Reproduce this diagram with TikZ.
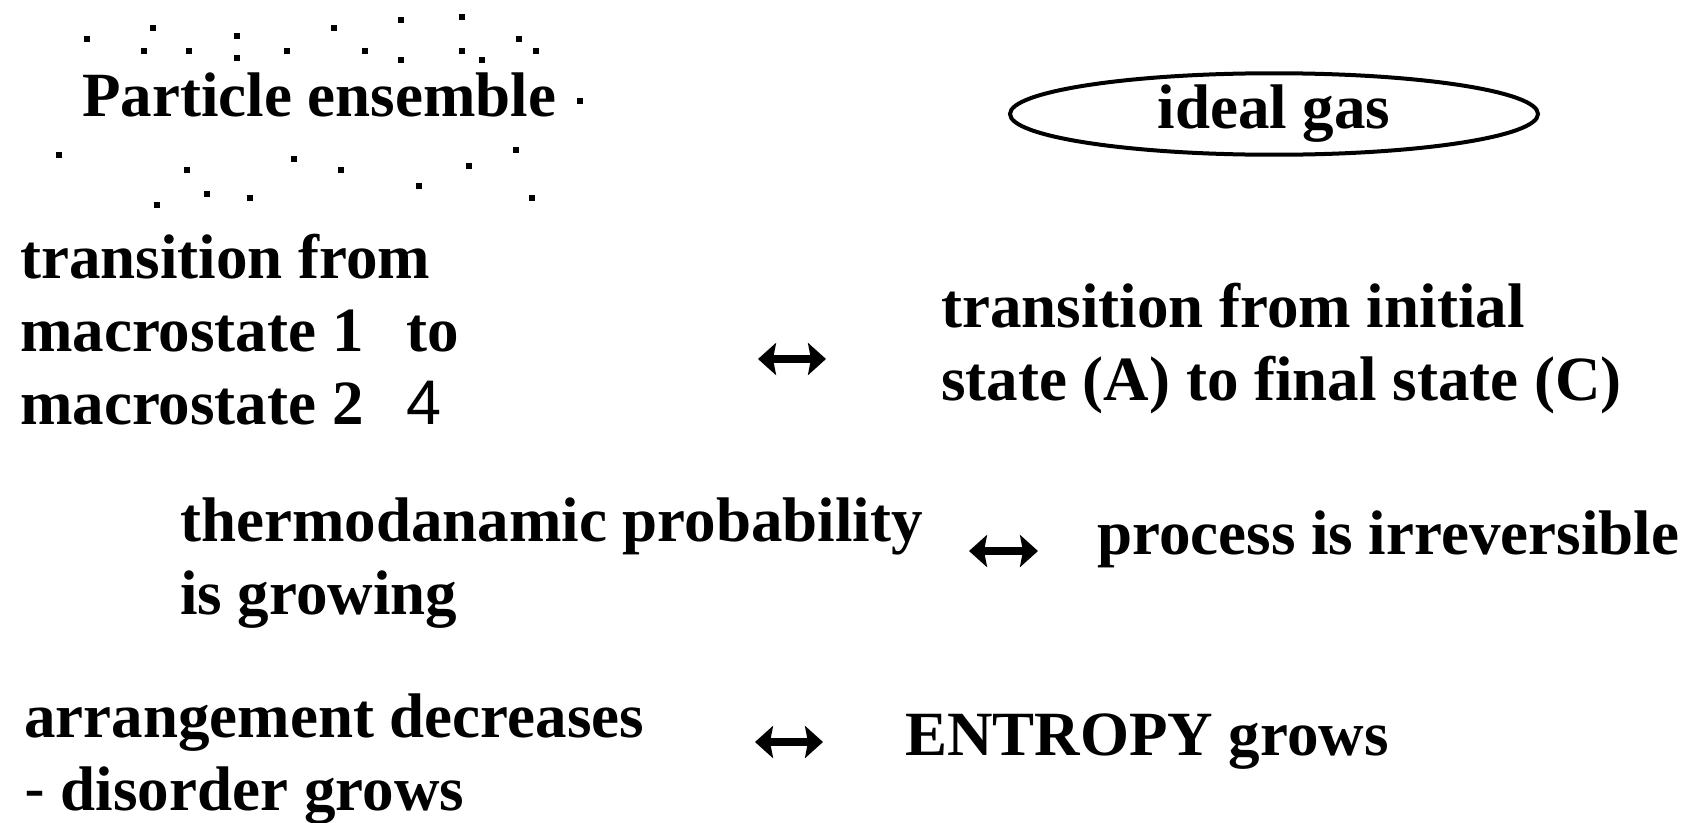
\documentclass[tikz,border=0pt]{standalone}
\usepackage{fontspec}
\setmainfont{Liberation Serif}
\newfontfamily\plainsans{Liberation Sans}
\usetikzlibrary{arrows.meta,positioning,calc,shapes.geometric}
\definecolor{inkblack}{HTML}{000000}
\tikzset{
  term/.style={anchor=base west, inner sep=0pt, align=left, text=inkblack, font=\fontsize{63}{73}\selectfont\bfseries},
  bubble/.style={ellipse, draw=inkblack, line width=4pt, minimum width=528pt, minimum height=64pt, inner sep=0pt, font=\fontsize{63}{73}\selectfont\bfseries},
  dual/.style={{Stealth[length=18pt,width=32pt,inset=3pt]}-{Stealth[length=18pt,width=32pt,inset=3pt]}, draw=inkblack, line width=8pt},
  particle/.style={fill=inkblack}
}

\begin{document}
\begin{tikzpicture}[x=1pt, y=-1pt]
  \useasboundingbox (0,0) rectangle (1704,822);

  % particle cloud
  \foreach \px/\py in {87/39,153/28,144/51,189/51,237/36,237/58,287/51,334/28,365/51,401/20,401/60,462/17,462/51,482/60,519/39,536/51,580/101,
                       59/155,187/170,294/159,341/170,469/166,516/150,419/186,207/194,250/198,157/205,532/198}
    \fill[particle] (\px-3,\py-3) rectangle ++(6,6);
  \node[term] (ensemble) at (82,116) {Particle ensemble};
  \node[bubble] (gas) at (1274,114) {ideal gas};

  % first row (base = last line)
  \node[term] (macro) at (20,424) {transition from\\macrostate 1\hspace{43pt}to\\macrostate 2\hspace{43pt}{\plainsans\mdseries 4}};
  \coordinate (a1l) at (758,359);
  \coordinate (a1r) at (826,359);
  \draw[dual] (a1l) -- (a1r);
  \node[term] (states) at (941,400) {transition from initial\\state (A) to final state (C)};

  % second row
  \node[term] (prob) at (180,614) {thermodanamic probability\\is growing};
  \coordinate (a2l) at (969,551);
  \coordinate (a2r) at (1038,551);
  \draw[dual] (a2l) -- (a2r);
  \node[term] (irrev) at (1097,554) {process is irreversible};

  % third row
  \node[term] (order) at (24,810) {arrangement decreases\\{\plainsans\mdseries -} disorder grows};
  \coordinate (a3l) at (755,742);
  \coordinate (a3r) at (823,742);
  \draw[dual] (a3l) -- (a3r);
  \node[term] (entropy) at (905,755) {ENTROPY grows};
\end{tikzpicture}
\end{document}
